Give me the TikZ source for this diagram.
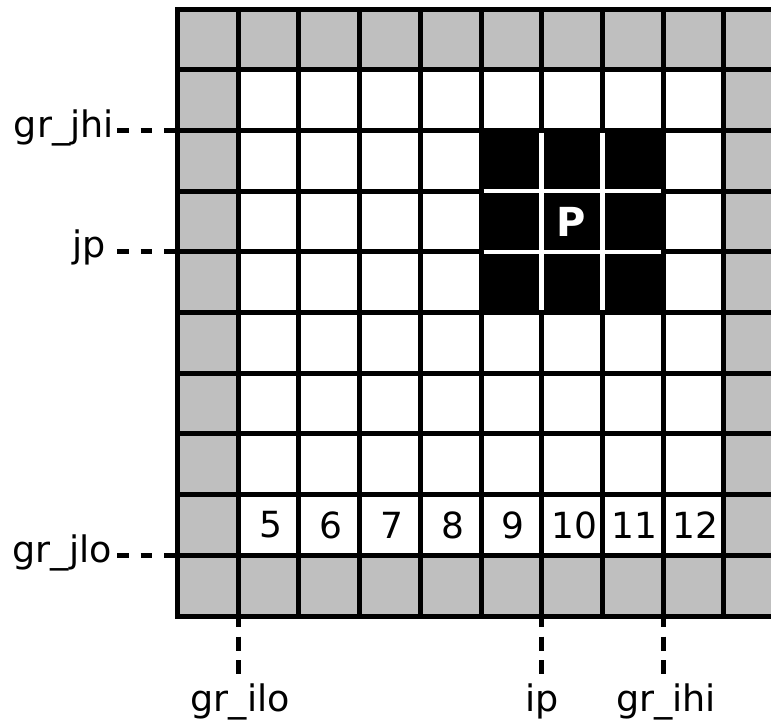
\documentclass[tikz,border=0pt]{standalone}
\usepackage{fontspec}
\setmainfont{DejaVu Sans}
\definecolor{cellgray}{RGB}{191,191,191}
\begin{document}
\begin{tikzpicture}[x=1pt,y=-1pt,
  gridline/.style={line width=5pt,black,line cap=rect},
  innerline/.style={line width=4.5pt,white},
  dashline/.style={line width=5pt,black,dash pattern=on 11.5pt off 12pt},
  vdashline/.style={line width=5pt,black,dash pattern=on 14pt off 9.5pt},
  lbl/.style={inner sep=0pt,font=\fontsize{36.5}{42}\selectfont},
  num/.style={inner sep=0pt,font=\fontsize{36}{42}\selectfont}]
\def\s{60.7}
\def\xo{177.5}
\def\yo{9}
\useasboundingbox (0,0) rectangle (771,721);
% horizontal dashed guides
\coordinate (gjhi) at (\xo,\yo+2*\s);
\coordinate (gjp) at (\xo,\yo+4*\s);
\coordinate (gjlo) at (\xo,\yo+9*\s);
\coordinate (sjhi) at (117,\yo+2*\s);
\coordinate (sjp) at (117,\yo+4*\s);
\coordinate (sjlo) at (117,\yo+9*\s);
\draw[dashline] (sjhi) -- (gjhi);
\draw[dashline] (sjp) -- (gjp);
\draw[dashline] (sjlo) -- (gjlo);
\node[lbl,anchor=base east] (Ljhi) at (114,\yo+2*\s+7.5) {gr\_jhi};
\node[lbl,anchor=base east] (Ljp) at (106,\yo+4*\s+6) {jp};
\node[lbl,anchor=base east] (Ljlo) at (112,\yo+9*\s+7.5) {gr\_jlo};
% vertical dashed guides
\coordinate (gilo) at (\xo+1*\s,613);
\coordinate (gip) at (\xo+6*\s,613);
\coordinate (gihi) at (\xo+8*\s,613);
\coordinate (eilo) at (\xo+1*\s,674);
\coordinate (eip) at (\xo+6*\s,674);
\coordinate (eihi) at (\xo+8*\s,674);
\draw[vdashline] (gilo) -- (eilo);
\draw[vdashline] (gip) -- (eip);
\draw[vdashline] (gihi) -- (eihi);
\node[lbl,anchor=base] (Lilo) at (\xo+1*\s+2,711.5) {gr\_ilo};
\node[lbl,anchor=base] (Lip) at (\xo+6*\s,711.5) {ip};
\node[lbl,anchor=base] (Lihi) at (\xo+8*\s+3,711.5) {gr\_ihi};
% grid
\begin{scope}
\clip (0,0) rectangle (771,721);
\fill[cellgray] (\xo,\yo) rectangle (\xo+10*\s,\yo+10*\s);
\fill[white] (\xo+\s,\yo+\s) rectangle (\xo+9*\s,\yo+9*\s);
\fill[black] (\xo+5*\s,\yo+2*\s) rectangle (\xo+8*\s,\yo+5*\s);
\foreach \k in {0,...,10}{
  \draw[gridline] (\xo+\k*\s,\yo) -- (\xo+\k*\s,\yo+10*\s);
  \draw[gridline] (\xo,\yo+\k*\s) -- (\xo+10*\s,\yo+\k*\s);
}
\foreach \k in {6,7}{
  \draw[innerline] (\xo+\k*\s,\yo+2*\s+2.5) -- (\xo+\k*\s,\yo+5*\s-2.5);
}
\foreach \k in {3,4}{
  \draw[innerline] (\xo+5*\s+2.5,\yo+\k*\s) -- (\xo+8*\s-2.5,\yo+\k*\s);
}
\end{scope}
\node[num,text=white,font=\fontsize{40}{46}\selectfont\bfseries] (P) at (\xo+6.5*\s-1,\yo+3.5*\s) {P};
\foreach \n [count=\c] in {5,...,12}{
  \node[num] (n\n) at (\xo+\c*\s+0.5*\s+2,\yo+8.5*\s) {\n};
}
\end{tikzpicture}
\end{document}
